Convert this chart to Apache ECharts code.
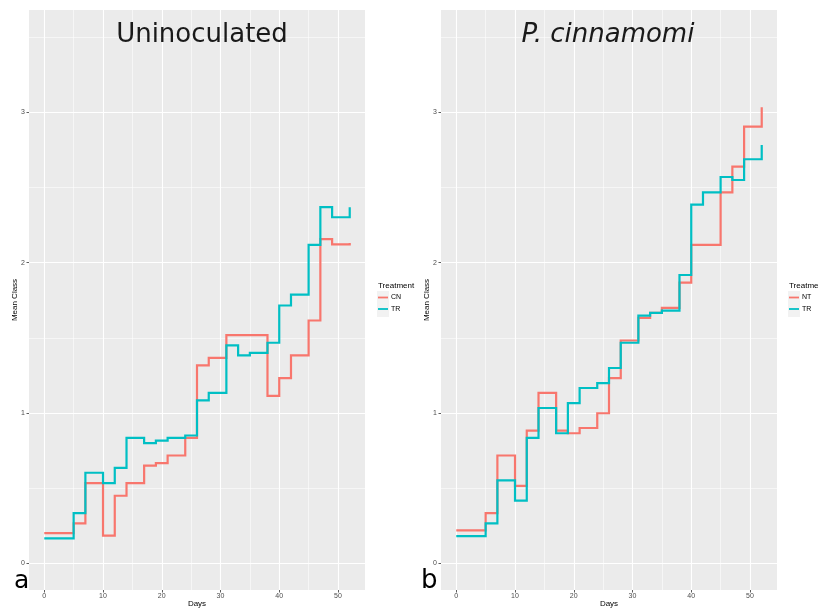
<!DOCTYPE html>
<html>
<head>
<meta charset="utf-8">
<script src="https://cdn.jsdelivr.net/npm/echarts@6/dist/echarts.min.js"></script>
<style>
  html, body { margin: 0; padding: 0; background: #fff; }
  #chart { width: 818px; height: 608px; }
</style>
</head>
<body>
<div id="chart"></div>
<script>
// Observation days shared by every series
const days = [0, 5, 7, 10, 12, 14, 17, 19, 21, 24, 26, 28, 31, 33, 35, 38, 40, 42, 45, 47, 49, 52];

// Panel a: uninoculated plants
const uninocCN = [0.200, 0.265, 0.533, 0.184, 0.449, 0.533, 0.650, 0.666, 0.717, 0.834, 1.316, 1.367, 1.518, 1.518, 1.518, 1.113, 1.232, 1.383, 1.615, 2.156, 2.122, 2.130];
const uninocTR = [0.166, 0.334, 0.602, 0.533, 0.635, 0.834, 0.799, 0.816, 0.834, 0.850, 1.084, 1.133, 1.449, 1.383, 1.400, 1.467, 1.715, 1.787, 2.118, 2.369, 2.302, 2.369];

// Panel b: P. cinnamomi inoculated plants
const pcNT = [0.219, 0.334, 0.717, 0.515, 0.883, 1.133, 0.883, 0.865, 0.900, 0.998, 1.232, 1.482, 1.633, 1.666, 1.699, 1.867, 2.118, 2.118, 2.468, 2.639, 2.905, 3.034];
const pcTR = [0.181, 0.265, 0.551, 0.416, 0.834, 1.033, 0.865, 1.066, 1.166, 1.199, 1.299, 1.467, 1.648, 1.666, 1.681, 1.918, 2.386, 2.468, 2.570, 2.550, 2.688, 2.783];

// Tick positions
const xTicks = [0, 10, 20, 30, 40, 50];
const xMinor = [5, 15, 25, 35, 45];
const yTicks = [0, 1, 2, 3];
const yMinor = [0.5, 1.5, 2.5, 3.5];

const RED = '#F8766D';
const TEAL = '#00BFC4';
const pair = (ys) => days.map((d, i) => [d, ys[i]]);

const chart = echarts.init(document.getElementById('chart'), null, { renderer: 'canvas' });

const grids = [
  { left: 29, top: 10, width: 336, height: 580 },
  { left: 441, top: 10, width: 336, height: 580 }
];

function xAxisFor(i) {
  return {
    type: 'value', gridIndex: i, min: -2.6, max: 54.6,
    name: 'Days', nameLocation: 'middle', nameGap: 10, nameMoveOverlap: false,
    nameTextStyle: { fontFamily: 'Liberation Sans', fontSize: 8, color: '#000' },
    axisLine: { show: false, onZero: false },
    axisTick: { show: true, length: 2.5, customValues: xTicks, lineStyle: { color: '#333', width: 0.8 } },
    axisLabel: { customValues: xTicks, fontFamily: 'Liberation Sans', fontSize: 7, color: '#4D4D4D', margin: 3 },
    splitLine: { show: false }
  };
}
function yAxisFor(i) {
  return {
    type: 'value', gridIndex: i, min: -0.178, max: 3.681,
    name: 'Mean Class', nameLocation: 'middle', nameGap: 10, nameRotate: 90, nameMoveOverlap: false,
    nameTextStyle: { fontFamily: 'Liberation Sans', fontSize: 8, color: '#000' },
    axisLine: { show: false, onZero: false },
    axisTick: { show: true, length: 2.5, customValues: yTicks, lineStyle: { color: '#333', width: 0.8 } },
    axisLabel: { customValues: yTicks, fontFamily: 'Liberation Sans', fontSize: 7, color: '#4D4D4D', margin: 4 },
    splitLine: { show: false }
  };
}

// Panel gridlines drawn as mark lines on a blank helper series
function gridSeries(i) {
  const major = xTicks.map(v => ({ xAxis: v })).concat(yTicks.map(v => ({ yAxis: v })));
  const minor = xMinor.map(v => ({ xAxis: v, lineStyle: { width: 0.55 } }))
    .concat(yMinor.map(v => ({ yAxis: v, lineStyle: { width: 0.55 } })));
  return {
    type: 'line', xAxisIndex: i, yAxisIndex: i, z: 1, silent: true,
    data: [[0, 0]], showSymbol: false, lineStyle: { opacity: 0 },
    markLine: {
      z: 1, silent: true, symbol: ['none', 'none'], animation: false,
      label: { show: false },
      lineStyle: { color: '#fff', type: 'solid', width: 1.1 },
      emphasis: { disabled: true },
      data: minor.concat(major)
    }
  };
}

function stepSeries(name, ys, color, i) {
  return {
    name, type: 'line', step: 'end', xAxisIndex: i, yAxisIndex: i, z: 10,
    data: pair(ys), showSymbol: false, symbol: 'none', animation: false,
    color, lineStyle: { color, width: 2.2, cap: 'butt', join: 'miter' },
    emphasis: { disabled: true }
  };
}

function legendFor(names, left) {
  return {
    orient: 'vertical', left, top: 294, itemGap: 4.5,
    data: names.map(n => ({ name: n, icon: 'rect' })),
    itemWidth: 10, itemHeight: 1.8,
    textStyle: { fontFamily: 'Liberation Sans', fontSize: 7, color: '#000', padding: [0, 0, 0, -2] },
    selectedMode: false, padding: 0
  };
}

const option = {
  backgroundColor: '#fff',
  animation: false,
  grid: grids.map(g => Object.assign({ show: true, backgroundColor: '#EBEBEB', borderWidth: 0, outerBoundsMode: 'none', containLabel: false }, g)),
  xAxis: [xAxisFor(0), xAxisFor(1)],
  yAxis: [yAxisFor(0), yAxisFor(1)],
  legend: [legendFor(['CN', 'TR'], 378), legendFor(['NT', 'TR'], 789)],
  series: [
    gridSeries(0), gridSeries(1),
    stepSeries('CN', uninocCN, RED, 0),
    stepSeries('TR', uninocTR, TEAL, 0),
    stepSeries('NT', pcNT, RED, 1),
    stepSeries('TR', pcTR, TEAL, 1)
  ],
  graphic: [
    // legend key backgrounds
    { type: 'rect', left: 377, top: 291, shape: { width: 12, height: 26 }, style: { fill: '#F2F2F2' }, z: -1 },
    { type: 'rect', left: 788, top: 291, shape: { width: 12, height: 26 }, style: { fill: '#F2F2F2' }, z: -1 },
    { type: 'text', left: 378, top: 282, z: 100, style: { text: 'Treatment', fontFamily: 'Liberation Sans', fontSize: 8, fill: '#000' } },
    { type: 'text', left: 789, top: 282, z: 100, style: { text: 'Treatment', fontFamily: 'Liberation Sans', fontSize: 8, fill: '#000' } },
    // panel titles
    { type: 'text', x: 202, y: 35, z: 100, style: { text: 'Uninoculated', fontFamily: 'DejaVu Sans', fontSize: 26, fill: '#1a1a1a', align: 'center', verticalAlign: 'middle' } },
    { type: 'text', x: 608, y: 35, z: 100, style: { text: 'P. cinnamomi', fontFamily: 'DejaVu Sans', fontStyle: 'italic', fontSize: 26, fill: '#1a1a1a', align: 'center', verticalAlign: 'middle' } },
    // panel letters
    { type: 'text', x: 14, y: 594, z: 100, style: { text: 'a', fontFamily: 'DejaVu Sans', fontSize: 25, fill: '#000', verticalAlign: 'bottom' } },
    { type: 'text', x: 421, y: 594, z: 100, style: { text: 'b', fontFamily: 'DejaVu Sans', fontSize: 26, fill: '#000', verticalAlign: 'bottom' } }
  ]
};

chart.setOption(option);
</script>
</body>
</html>
